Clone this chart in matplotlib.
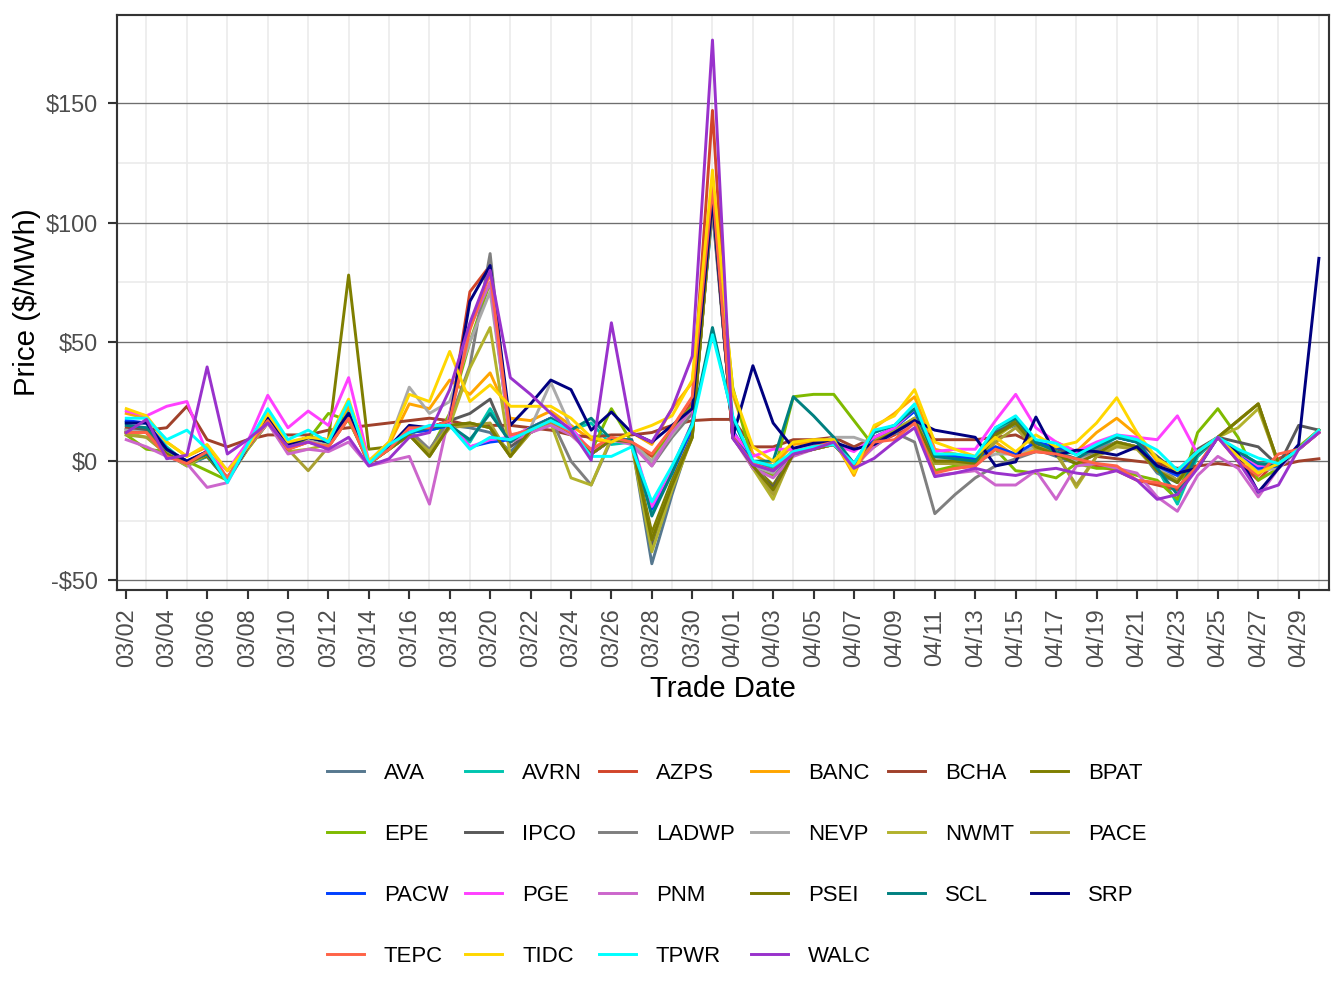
import matplotlib
matplotlib.use("Agg")
import matplotlib.pyplot as plt
import pandas as pd

plt.rcParams["font.family"] = ["Liberation Sans", "DejaVu Sans"]

# trade dates 03/02 .. 04/30
dates = pd.date_range("2023-03-02", "2023-04-30", freq="D")

names = ["AVA", "AVRN", "AZPS", "BANC", "BCHA", "BPAT", "EPE", "IPCO", "LADWP", "NEVP", "NWMT",
         "PACE", "PACW", "PGE", "PNM", "PSEI", "SCL", "SRP", "TEPC", "TIDC", "TPWR", "WALC"]

colors = ["#56788F", "#00C5B0", "#D2452A", "#FFA500", "#A0412B", "#7F7F00", "#7FBA00", "#595959",
          "#7F7F7F", "#A9A9A9", "#B2B22C", "#A9A032", "#0040FF", "#FF40FF", "#CC66CC", "#7A7A00",
          "#008080", "#000080", "#FF6347", "#FFD700", "#00FFFF", "#9932CC"]

AVA = [13, 14, 3, -2, 2, -8, 6, 18, 6, 9,
       7, 19, -1, 5, 11, 3, 15, 14, 12, 4,
       12, 17, 12, 3, 9, 8, -43, -14, 12, 108,
       11, -2, -6, 3, 5, 7, -2, 8, 13, 18,
       0, 0, -1, 12, 15, 5, 2, -1, 4, 8,
       6, -5, -9, 2, 10, 3, -4, -2, 5, 12]
AVRN = [16, 16, 6, -1, 2, -8, 7, 19, 7, 10,
        8, 21, -1, 6, 12, 13, 15, 8, 22, 8,
        14, 18, 13, 16, 7, 8, -22, -3, 16, 105,
        18, -1, -3, 4, 6, 7, -1, 10, 14, 21,
        2, 1, 0, 13, 17, 7, 3, 0, 5, 10,
        8, -3, -18, 2, 10, 4, -1, -1, 5, 13]
AZPS = [12, 12, 2, 0, 4, -7, 6, 17, 5, 8,
        6, 18, -1, 5, 14, 14, 17, 71, 82, 10,
        13, 17, 12, 4, 9, 8, 2, 12, 25, 147,
        10, -1, -4, 4, 6, 8, -3, 7, 11, 16,
        -4, -3, -2, 6, 2, 4, 3, 0, -2, -4,
        -8, -10, -12, -2, 10, 0, -8, 1, 5, 12]
BANC = [20, 18, 8, 2, 6, -4, 6, 19, 7, 10,
        9, 23, 0, 7, 24, 22, 34, 28, 37, 18,
        17, 21, 15, 9, 8, 12, 7, 22, 33, 118,
        28, 3, -2, 7, 8, 9, -6, 14, 20, 27,
        5, 3, 1, 8, 2, 5, 8, 4, 12, 18,
        11, 0, -5, 4, 10, 3, -5, -1, 5, 13]
BCHA = [14, 13, 14, 23, 9, 6, 9, 11, 11, 11,
        13, 14, 15, 16, 17, 18, 17, 15, 15, 15,
        14, 13, 11, 10, 11, 11, 12, 15, 17, 17.5,
        17.5, 6, 6, 9, 9, 10, 6, 10, 13, 16,
        9, 9, 9, 10, 11, 7, 5, 4, 2, 1,
        0, -1, -3, -2, -1, -2, -3, -2, 0, 1]
BPAT = [12, 12, 4, 0, 2, -8, 6, 17, 5, 10,
        9, 78, 5, 6, 11, 2, 15, 16, 14, 2,
        13, 17, 12, 3, 9, 8, -30, -8, 11, 110,
        10, -2, -10, 3, 5, 7, -2, 8, 12, 17,
        1, 0, -1, 11, 17, 6, 3, -1, 3, 8,
        6, -4, -8, 3, 10, 17, 24, -1, 5, 13]
EPE = [11, 5, 4, 0, -4, -8, 5, 16, 5, 9,
       20, 17, 0, 5, 11, 4, 20, 50, 75, 8,
       12, 16, 11, 4, 22, 8, 0, 14, 23, 112,
       31, -1, -6, 27, 28, 28, 17, 6, 12, 18,
       -4, -2, -1, 5, -4, -5, -7, -1, -3, -3,
       -6, -8, -16, 12, 22, 10, -8, -3, 6, 13]
IPCO = [13, 13, 3, -1, 3, -7, 6, 17, 6, 9,
        7, 19, -1, 6, 12, 4, 17, 20, 26, 6,
        12, 17, 12, 3, 9, 9, -35, -12, 11, 108,
        12, -3, -11, 4, 6, 7, -1, 9, 13, 17,
        1, 1, 0, 12, 16, 7, 5, 3, 7, 10,
        8, 2, -5, 5, 10, 8, 6, -2, 15, 13]
LADWP = [12, 12, 2, -1, 3, -8, 6, 17, 6, 9,
         7, 19, -1, 6, 13, 5, 17, 40, 87, 9,
         14, 18, 0, -10, 9, 8, -2, 10, 20, 105,
         12, 0, -13, 4, 6, 8, -2, 8, 12, 8,
         -22, -14, -7, -2, 1, 4, 4, 0, 5, 8,
         6, -2, -8, 3, 10, 3, -3, -2, 5, 12]
NEVP = [13, 12, 3, 0, 3, -7, 6, 17, 6, 9,
        7, 19, 0, 8, 31, 20, 25, 50, 71, 10,
        14, 33, 14, 4, 9, 8, 0, 11, 22, 110,
        11, -2, -5, 5, 7, 10, 10, 7, 13, 17,
        1, 1, 0, 3, 3, 6, 4, 0, 3, 8,
        6, -3, -6, 3, 10, 3, -4, -3, 5, 12]
NWMT = [12, 10, 3, -2, 3, -8, 5, 16, 4, 5,
        7, 18, -1, 5, 11, 4, 15, 39, 56, 2,
        12, 16, -7, -10, 10, 7, -38, -12, 10, 110,
        12, -3, -16, 4, 5, 7, -2, 9, 13, 18,
        0, -1, -2, 10, 16, 6, 4, -11, 2, 7,
        6, -4, -8, 3, 10, 14, 22, -1, 5, 13]
PACE = [11, 10, 3, -1, 3, -8, 5, 16, 5, -4,
        6, 18, -1, 5, 11, 3, 14, 15, 16, 2,
        12, 16, 12, 3, 9, 8, -33, -10, 10, 110,
        12, -2, -14, 3, 5, 7, -2, 8, 12, 18,
        -1, -1, -2, 8, 14, 5, 3, -10, 2, 6,
        5, -4, -8, 3, 10, 17, 24, -2, 5, 13]
PACW = [17, 16, 5, 0, 4, -8, 6, 18, 7, 10,
        8, 20, -1, 6, 12, 13, 15, 6, 8, 9,
        14, 18, 13, 3, 9, 8, -20, -5, 14, 110,
        13, -1, -4, 4, 6, 7, -1, 10, 14, 21,
        3, 2, 1, 6, 3, 8, 6, 4, 7, 10,
        8, -2, -6, 3, 10, 4, -3, -2, 5, 13]
PGE = [21, 19, 23, 25, 3, -4, 8, 27.6, 14, 21,
       15, 35, 0, 7, 13, 14, 16, 6, 9, 10,
       14, 18, 14, 4, 9, 9, -19, -3, 16, 110,
       12, 2, 5, 5, 6, 7, 4, 10, 14, 22,
       4, 5, 5, 17, 28, 14, 8, 4, 8, 11,
       10, 9, 19, 3, 10, 4, -2, -1, 5, 13]
PNM = [9, 6, 2, -1, -11, -9, 6, 16, 3, 5,
       4, 8, -2, 0, 2, -18, 20, 56, 75, 8,
       12, 15, 11, 3, 9, 7, -2, 12, 22, 112,
       10, -3, -7, 2, 5, 7, -2, 6, 12, 16,
       -6, -5, -4, -10, -10, -4, -16, -2, -1, -3,
       -5, -15, -21, -6, 2, -3, -15, -3, 5, 12]
PSEI = [12, 12, 3, -1, 3, -8, 6, 17, 5, 10,
        8, 19, -1, 5, 11, 2, 15, 16, 14, 2,
        13, 17, 12, 3, 9, 8, -33, -10, 10, 110,
        10, -2, -12, 3, 5, 7, -2, 8, 12, 17,
        0, 0, -1, 11, 16, 6, 3, -1, 3, 8,
        6, -4, -9, 3, 10, 17, 24, -1, 5, 13]
SCL = [15, 14, 5, 0, 3, -8, 6, 18, 7, 10,
       8, 20, -1, 6, 12, 14, 15, 9, 20, 8,
       14, 18, 13, 18, 9, 9, -23, -5, 16, 56,
       18, 0, 0, 27, 19, 10, -1, 12, 15, 22,
       2, 1, 0, 14, 18, 8, 4, 1, 6, 10,
       8, -3, -14, 3, 10, 4, -1, -2, 5, 13]
SRP = [16, 16, 5, 0, 4, -8, 6, 18, 7, 10,
       8, 20, -1, 6, 15, 14, 17, 67, 82, 15,
       24, 34, 30, 13, 20.6, 12, 8, 15, 22, 110,
       10, 40, 16, 5.4, 7.5, 8, 5, 7, 12, 17,
       13, 11.5, 10, -2, -0.3, 18.5, 2.5, 4.6, 4, 2.5,
       6, -2, -5, -3, 10, 3, -13, -3, 7, 85]
TEPC = [12, 12, 2, -1, 4, -7, 6, 17, 5, 8,
        6, 18, -1, 5, 14, 14, 17, 55, 79, 11,
        13, 17, 12, 5, 10, 8, 3, 14, 27, 115,
        10, -1, -4, 4, 6, 8, -3, 8, 9, 16,
        -5, -3, -2, 5, 2, 4, 3, 1, -1, -2,
        -8, -9, -11, -2, 10, 0, -6, 3, 5, 12]
TIDC = [22, 19, 8, 2, 7, -4, 6, 20, 8, 10,
        9, 26, 0, 8, 28, 25, 46, 25, 32, 23,
        23, 23, 18, 10, 8, 12, 15, 19, 34, 122,
        30, 6, 0, 8, 9, 9, -5, 15, 19, 30,
        8, 5, 2, 10, 4, 11, 6, 8, 16, 26.6,
        12, 1, -4, 4, 10, 2, -5, -1, 5, 13]
TPWR = [18, 18, 9, 13, 5, -9, 7, 22, 9, 13,
        8, 25, -1, 7, 12, 15, 15, 5, 10, 9,
        13, 17, 13, 2, 2, 6, -17, -2, 15, 53,
        19, 0, -2, 4, 6, 7, -1, 13, 15, 24,
        3, 3, 2, 14, 19, 9, 7.5, 2.5, 7, 11,
        9, 4.6, -3.8, 4, 10, 5, 1.3, -1, 5, 13]
WALC = [12, 17.5, 1, 2.5, 39.5, 3, 9, 16, 6, 8,
        5, 10, -2, 1, 10, 12, 30, 58, 80, 35,
        28, 20, 13, 0.4, 58, 12, 8, 22, 44, 176.5,
        9.6, -1.5, -4, 3, 5, 8, -3, 1.2, 8, 14,
        -6.5, -5, -3, -5, -6, -4, -3, -5, -6, -4,
        -8, -16, -14, -3, 10, 0, -12.8, -10, 5, 12]

series = [AVA, AVRN, AZPS, BANC, BCHA, BPAT, EPE, IPCO, LADWP, NEVP, NWMT,
          PACE, PACW, PGE, PNM, PSEI, SCL, SRP, TEPC, TIDC, TPWR, WALC]

fig = plt.figure(figsize=(7, 5.25), dpi=192)
ax = fig.add_axes([117 / 1344, 1 - 590 / 1008, (1329 - 117) / 1344, (590 - 15) / 1008])

lines = []
for name, vals, col in zip(names, series, colors):
    ln, = ax.plot(dates, vals, color=col, linewidth=1.1, label=name)
    lines.append(ln)

# axis limits
ax.set_xlim(dates[0] - pd.Timedelta(hours=11), dates[-1] + pd.Timedelta(hours=12))
ax.set_ylim(-54, 187)

# x ticks every 2 days, minor grid in between
ax.set_xticks(dates[::2])
ax.set_xticklabels([d.strftime("%m/%d") for d in dates[::2]], rotation=90)
ax.set_xticks(dates[1::2], minor=True)
ax.set_yticks([-50, 0, 50, 100, 150])
ax.set_yticklabels(["-$50", "$0", "$50", "$100", "$150"])
ax.set_yticks([-25, 25, 75, 125], minor=True)

ax.tick_params(axis="both", which="major", labelsize=8.8, labelcolor="#4D4D4D",
               color="#333333", length=3.5, width=0.8)
ax.tick_params(axis="both", which="minor", length=0)

ax.grid(False)
ax.grid(which="minor", axis="both", color="#EBEBEB", linewidth=0.6)
ax.grid(which="major", axis="y", color="#6E6E6E", linewidth=0.5)
ax.set_axisbelow(True)
for sp in ax.spines.values():
    sp.set_color("#333333")
    sp.set_linewidth(0.8)

ax.set_xlabel("Trade Date", fontsize=11, labelpad=3)
ax.set_ylabel("Price ($/MWh)", fontsize=11, labelpad=2)

# legend fills by column, so reorder to read across rows (6 per row)
ncol = 6
nrow = 4
order = [r * ncol + c for c in range(ncol) for r in range(nrow) if r * ncol + c < len(lines)]
fig.legend(handles=[lines[i] for i in order], loc="center", bbox_to_anchor=(0.548, 0.142),
           ncol=ncol, frameon=False, fontsize=8.3, handlelength=1.68, handletextpad=0.9,
           columnspacing=0.75, labelspacing=1.8)

fig.savefig("out.png", dpi=192)
